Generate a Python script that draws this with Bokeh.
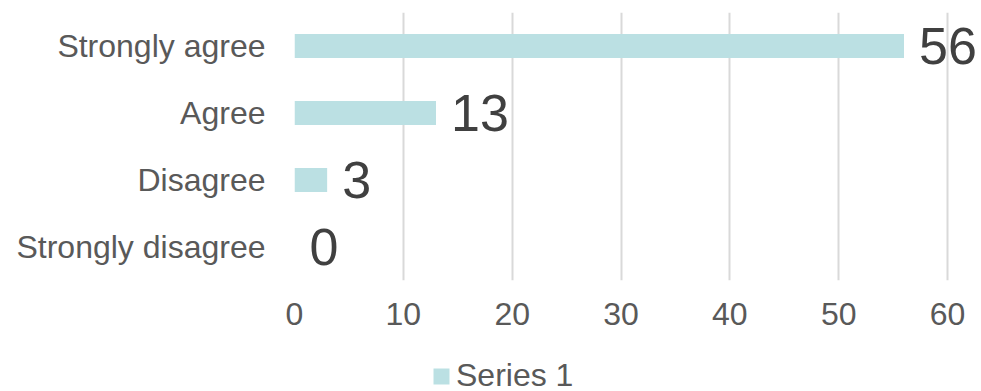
from bokeh.plotting import figure
from bokeh.layouts import column
from bokeh.models import ColumnDataSource, Range1d, FactorRange, FixedTicker, Legend, LegendItem
from bokeh.core.properties import value
from bokeh.embed import file_html
from bokeh.resources import INLINE

categories = ["Strongly agree", "Agree", "Disagree", "Strongly disagree"]
values = [56, 13, 3, 0]
x_ticks = [0, 10, 20, 30, 40, 50, 60]
series_name = "Series 1"

FONT = "Liberation Sans"
BAR_COLOR = "#bbe0e3"

src = ColumnDataSource(dict(cat=categories, val=values, lab=[str(v) for v in values]))

p = figure(width=981, height=340,
           y_range=FactorRange(*reversed(categories)),
           x_range=Range1d(0, 63.12),
           output_backend="svg", toolbar_location=None,
           min_border_left=294, min_border_right=0, min_border_top=12, min_border_bottom=60)
p.outline_line_color = None
p.background_fill_color = "white"

bars = p.hbar(y="cat", right="val", left=0, height=0.36, source=src,
              fill_color=BAR_COLOR, line_color=None)
p.text(x="val", y="cat", text="lab", source=src, x_offset=15,
       text_baseline="middle", text_align="left",
       text_font=value(FONT), text_font_size="52px", text_color="#404040")

xa = p.xaxis[0]
xa.ticker = FixedTicker(ticks=x_ticks)
xa.axis_line_color = None
xa.major_tick_line_color = None
xa.minor_tick_line_color = None
xa.major_tick_out = 0
xa.major_tick_in = 0
xa.major_label_standoff = 22
xa.major_label_text_font = FONT
xa.major_label_text_font_size = "32px"
xa.major_label_text_color = "#595959"

ya = p.yaxis[0]
ya.axis_line_color = None
ya.major_tick_line_color = None
ya.minor_tick_line_color = None
ya.major_tick_out = 0
ya.major_tick_in = 0
ya.major_label_standoff = 29
ya.major_label_text_font = FONT
ya.major_label_text_font_size = "32px"
ya.major_label_text_color = "#595959"

p.xgrid.ticker = FixedTicker(ticks=x_ticks)
p.xgrid.grid_line_color = "#d9d9d9"
p.xgrid.grid_line_width = 2
p.ygrid.grid_line_color = None

# legend strip below the chart (same series, kept out of view; only its legend shows)
lp = figure(width=981, height=51, x_range=Range1d(-2, -1),
            y_range=FactorRange(*reversed(categories)),
            output_backend="svg", toolbar_location=None,
            x_axis_location=None, y_axis_location=None,
            min_border_left=294, min_border_right=0, min_border_top=0, min_border_bottom=0)
lp.outline_line_color = None
lp.grid.visible = False
series_in_legend = lp.hbar(y="cat", right="val", left=0, height=0.36, source=src,
                           fill_color=BAR_COLOR, line_color=None)

legend = Legend(items=[LegendItem(label=series_name, renderers=[series_in_legend])],
                location=(137, -3), orientation="horizontal",
                padding=0, margin=0, border_line_color=None,
                background_fill_alpha=0,
                label_text_font=FONT, label_text_font_size="32px",
                label_text_color="#595959",
                glyph_width=20, glyph_height=20, label_standoff=5)
lp.add_layout(legend, "center")

layout = column(p, lp, spacing=0)
open("out.html", "w").write(file_html(layout, INLINE))
